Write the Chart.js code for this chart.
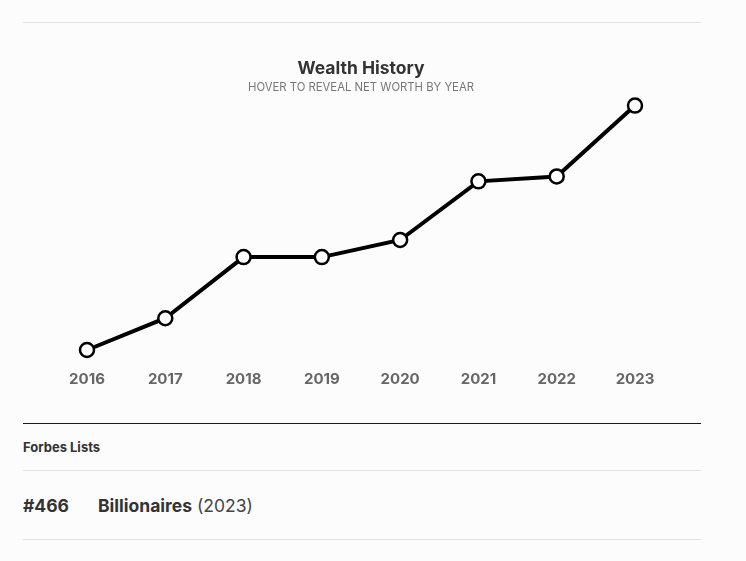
<!DOCTYPE html>
<html>
<head>
<meta charset="utf-8">
<script src="https://cdn.jsdelivr.net/npm/chart.js@4"></script>
<style>
  body { margin: 0; background: #fcfcfc; font-family: Inter, "Open Sans", sans-serif; }
  .rule { position: absolute; left: 23px; width: 678px; height: 1px; background: #e4e4e4; }
  .rule.dark { background: #1a1a1a; }
  #box { position: absolute; left: 23px; top: 23px; width: 678px; height: 395px; }
  .txt { position: absolute; left: 23px; color: #333; white-space: nowrap; }
</style>
</head>
<body>
<div class="rule" style="top:22px"></div>
<div id="box"><canvas id="wealth_history"></canvas></div>
<div class="rule dark" style="top:423px"></div>
<div class="txt" style="top:439px;font-size:13px;font-weight:700">Forbes Lists</div>
<div class="rule" style="top:470px"></div>
<div class="txt" style="top:495px;font-size:17.5px;font-weight:700">#466</div>
<div class="txt" style="top:495px;left:98px;font-size:17.5px"><b>Billionaires</b> <span style="color:#444">(2023)</span></div>
<div class="rule" style="top:539px"></div>
<script>
var years = ['2016', '2017', '2018', '2019', '2020', '2021', '2022', '2023'];
var net_worth = [1.6, 1.73, 1.98, 1.98, 2.05, 2.29, 2.31, 2.6];

window.onload = function ()
{
  var ctx = document.getElementById('wealth_history').getContext('2d');
  var wealth_chart = new Chart(ctx, {
    type: 'line',
    data: {
      labels: years,
      datasets: [{
        label: 'Net Worth',
        data: net_worth,
        borderColor: '#000',
        borderWidth: 4,
        pointRadius: 7,
        pointBorderWidth: 2.5,
        pointBackgroundColor: '#fff',
        pointBorderColor: '#000',
        tension: 0
      }]
    },
    options: {
      responsive: true,
      maintainAspectRatio: false,
      animation: false,
      layout: { padding: { left: 64, right: 66, top: 0, bottom: 10 } },
      plugins: {
        legend: { display: false },
        tooltip: { enabled: false },
        title: {
          display: true,
          text: 'Wealth History',
          color: '#333',
          font: { family: 'Inter', size: 17.5, weight: 'bold' },
          padding: { top: 35, bottom: 1 }
        },
        subtitle: {
          display: true,
          text: 'HOVER TO REVEAL NET WORTH BY YEAR',
          color: '#777',
          font: { family: 'Inter', size: 11.3 },
          padding: { top: 1, bottom: 11 }
        }
      },
      scales: {
        x: {
          grid: { display: false, drawTicks: false },
          border: { display: false },
          ticks: {
            color: '#666',
            padding: 20,
            font: { family: 'Inter', size: 15, weight: 'bold' }
          }
        },
        y: { display: false, bounds: 'data' }
      }
    }
  });
}
</script>
</body>
</html>
